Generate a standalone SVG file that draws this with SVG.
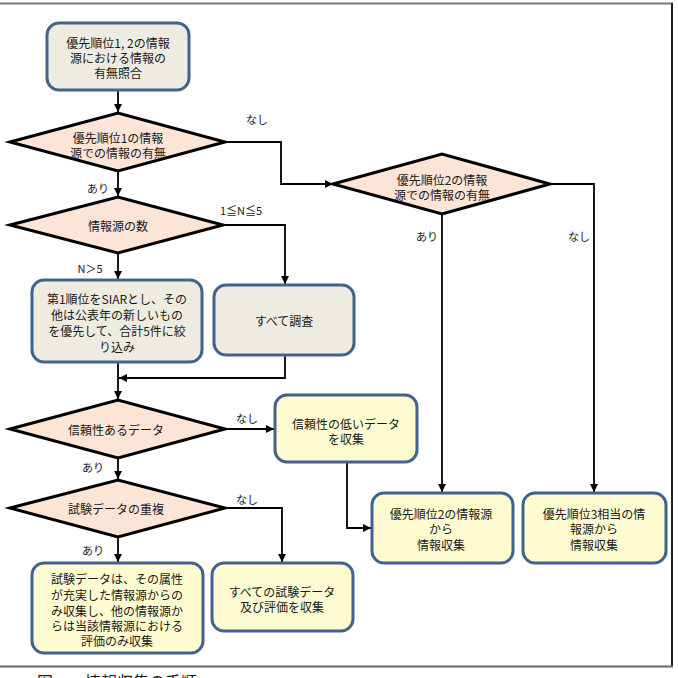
<svg xmlns="http://www.w3.org/2000/svg" width="678" height="678" viewBox="0 0 678 678">
<style>
.t{font-family:"Noto Sans CJK JP","Noto Sans",sans-serif;font-size:12px;fill:#1a1a1a;text-anchor:middle;dominant-baseline:central}
.l{font-family:"Noto Sans CJK JP","Noto Sans",sans-serif;font-size:11px;fill:#1a1a1a;text-anchor:middle;dominant-baseline:central}
.g{fill:#EEECE1;stroke:#41648F;stroke-width:3}
.y{fill:#FFFBD0;stroke:#41648F;stroke-width:3}
.d{fill:#FCE4D6;stroke:#000;stroke-width:3;stroke-linejoin:miter}
.c{fill:none;stroke:#000;stroke-width:1.8}
.f{fill:none;stroke-width:2}
</style>
<defs>
<marker id="a" markerUnits="userSpaceOnUse" markerWidth="9" markerHeight="8" refX="8" refY="4" orient="auto">
<path d="M0,0 L8,4 L0,8 z" fill="#000"/>
</marker>
</defs>
<rect width="678" height="678" fill="#fff"/>
<g id="frame">
<line class="f" x1="0" y1="3.5" x2="673" y2="3.5" stroke="#777"/>
<line class="f" x1="672" y1="3" x2="672" y2="667" stroke="#222"/>
<line class="f" x1="0" y1="666.5" x2="673" y2="666.5" stroke="#666"/>
</g>
<g id="connectors">
<path class="c" d="M118,90 V112" marker-end="url(#a)"/>
<path class="c" d="M225,142 H281 V184 H333" marker-end="url(#a)"/>
<path class="c" d="M118,171 V196" marker-end="url(#a)"/>
<path class="c" d="M223,225 H285 V284" marker-end="url(#a)"/>
<path class="c" d="M118,253 V279" marker-end="url(#a)"/>
<path class="c" d="M118,362 V399" marker-end="url(#a)"/>
<path class="c" d="M285,355 V378 H119" marker-end="url(#a)"/>
<path class="c" d="M225,429 H274" marker-end="url(#a)"/>
<path class="c" d="M347,462 V528 H371" marker-end="url(#a)"/>
<path class="c" d="M118,458 V479" marker-end="url(#a)"/>
<path class="c" d="M225,508 H282 V562" marker-end="url(#a)"/>
<path class="c" d="M118,537 V562" marker-end="url(#a)"/>
<path class="c" d="M442,214 V492" marker-end="url(#a)"/>
<path class="c" d="M550,184 H594 V492" marker-end="url(#a)"/>
</g>
<g id="labels">
<text class="l" x="257" y="119">なし</text>
<text class="l" x="98" y="188">あり</text>
<text class="l" x="241" y="210">1≦N≦5</text>
<text class="l" x="90" y="268">N＞5</text>
<text class="l" x="247" y="418">なし</text>
<text class="l" x="93" y="467">あり</text>
<text class="l" x="247" y="499">なし</text>
<text class="l" x="93" y="550">あり</text>
<text class="l" x="427" y="236">あり</text>
<text class="l" x="579" y="236">なし</text>
</g>
<g id="n0">
<rect class="g" x="47" y="23" width="142" height="67" rx="12"/>
<text class="t" x="118" y="42">優先順位1, 2の情報</text>
<text class="t" x="118" y="57">源における情報の</text>
<text class="t" x="118" y="72">有無照合</text>
</g>
<g id="d1">
<polygon class="d" points="10,142 118,113 225,142 118,171"/>
<text class="t" x="118" y="137">優先順位1の情報</text>
<text class="t" x="118" y="152">源での情報の有無</text>
</g>
<g id="d2">
<polygon class="d" points="10,225 118,197 223,225 118,253"/>
<text class="t" x="118" y="225">情報源の数</text>
</g>
<g id="n1">
<rect class="g" x="32" y="280" width="170" height="82" rx="12"/>
<text class="t" x="117" y="298">第1順位をSIARとし、その</text>
<text class="t" x="117" y="314">他は公表年の新しいもの</text>
<text class="t" x="117" y="330">を優先して、合計5件に絞</text>
<text class="t" x="117" y="346">り込み</text>
</g>
<g id="n2">
<rect class="g" x="214" y="285" width="140" height="70" rx="12"/>
<text class="t" x="284" y="320">すべて調査</text>
</g>
<g id="d3">
<polygon class="d" points="10,429 118,400 225,429 118,458"/>
<text class="t" x="116" y="429">信頼性あるデータ</text>
</g>
<g id="n3">
<rect class="y" x="275" y="395" width="142" height="67" rx="12"/>
<text class="t" x="346" y="423">信頼性の低いデータ</text>
<text class="t" x="346" y="438">を収集</text>
</g>
<g id="d4">
<polygon class="d" points="10,508 118,480 225,508 118,537"/>
<text class="t" x="116" y="508">試験データの重複</text>
</g>
<g id="d5">
<polygon class="d" points="333,184 442,154 550,184 442,214"/>
<text class="t" x="442" y="179">優先順位2の情報</text>
<text class="t" x="442" y="194">源での情報の有無</text>
</g>
<g id="n4">
<rect class="y" x="372" y="493" width="141" height="70" rx="12"/>
<text class="t" x="441" y="513">優先順位2の情報源</text>
<text class="t" x="441" y="528">から</text>
<text class="t" x="441" y="544">情報収集</text>
</g>
<g id="n5">
<rect class="y" x="523" y="493" width="143" height="70" rx="12"/>
<text class="t" x="594" y="513">優先順位3相当の情</text>
<text class="t" x="594" y="528">報源から</text>
<text class="t" x="594" y="544">情報収集</text>
</g>
<g id="n6">
<rect class="y" x="32" y="563" width="171" height="90" rx="12"/>
<text class="t" x="117" y="578">試験データは、その属性</text>
<text class="t" x="117" y="594">が充実した情報源からの</text>
<text class="t" x="117" y="610">み収集し、他の情報源か</text>
<text class="t" x="117" y="625">らは当該情報源における</text>
<text class="t" x="117" y="640">評価のみ収集</text>
</g>
<g id="n7">
<rect class="y" x="212" y="563" width="141" height="68" rx="12"/>
<text class="t" x="282" y="591">すべての試験データ</text>
<text class="t" x="282" y="606">及び評価を収集</text>
</g>
<g id="caption">
<text x="37" y="688" font-family="'Noto Sans CJK JP',sans-serif" font-size="16" fill="#1a1a1a">図</text>
<text x="85" y="688" font-family="'Noto Sans CJK JP',sans-serif" font-size="16" fill="#1a1a1a">情報収集の手順</text>
</g>
</svg>
